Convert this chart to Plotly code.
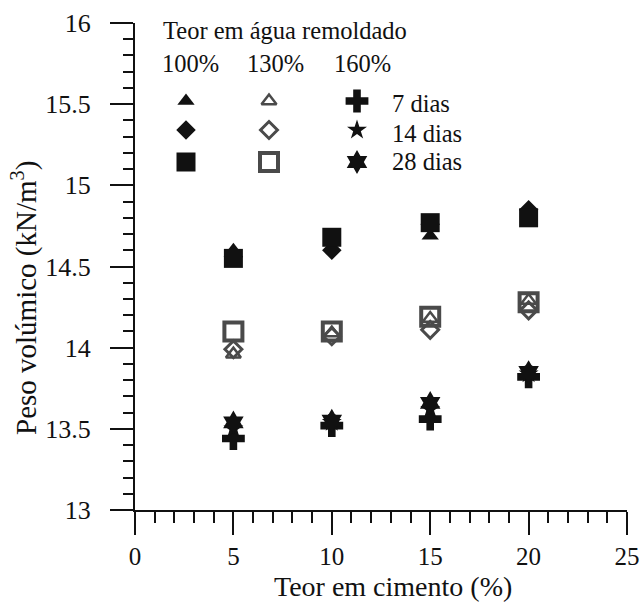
import plotly.graph_objects as go

# ---- data ----
cement = [5, 10, 15, 20]  # Teor em cimento (%)

# 100% remoulded water content (filled markers)
w100_7d = [14.60, 14.66, 14.69, 14.80]
w100_14d = [14.56, 14.60, 14.76, 14.85]
w100_28d = [14.55, 14.68, 14.77, 14.80]

# 130% (open markers)
w130_7d = [13.96, 14.09, 14.18, 14.29]
w130_14d = [13.99, 14.07, 14.11, 14.23]
w130_28d = [14.10, 14.10, 14.19, 14.28]

# 160%
w160_7d = [13.44, 13.52, 13.56, 13.82]
w160_14d = [13.50, 13.54, 13.62, 13.84]
w160_28d = [13.54, 13.55, 13.66, 13.85]

x_ticks = [0, 5, 10, 15, 20, 25]
y_ticks = [13, 13.5, 14, 14.5, 15, 15.5, 16]
y_ticklabels = ["13", "13.5", "14", "14.5", "15", "15.5", "16"]

legend_title = "Teor em água remoldado"
legend_cols = ["100%", "130%", "160%"]
legend_rows = ["7 dias", "14 dias", "28 dias"]

# ---- styling ----
FONT = "Liberation Serif"
BLACK = "#111111"
GREY = "#4a4a4a"

styles = {
    "w100_7d": dict(symbol="triangle-up", size=15, color=BLACK),
    "w100_14d": dict(symbol="diamond", size=15, color=BLACK),
    "w100_28d": dict(symbol="square", size=19, color=BLACK),
    "w130_7d": dict(symbol="triangle-up-open", size=13, color=GREY, line=dict(width=2.5, color=GREY)),
    "w130_14d": dict(symbol="diamond-open", size=13, color=GREY, line=dict(width=3, color=GREY)),
    "w130_28d": dict(symbol="square-open", size=18, color=GREY, line=dict(width=4, color=GREY)),
    "w160_7d": dict(symbol="cross", size=19, color=BLACK),
    "w160_14d": dict(symbol="star", size=15, color=BLACK),
    "w160_28d": dict(symbol="hexagram", size=18, color=BLACK),
}

series = [
    ("w100_7d", w100_7d), ("w100_14d", w100_14d), ("w100_28d", w100_28d),
    ("w130_7d", w130_7d), ("w130_14d", w130_14d), ("w130_28d", w130_28d),
    ("w160_7d", w160_7d), ("w160_14d", w160_14d), ("w160_28d", w160_28d),
]

fig = go.Figure()
for key, vals in series:
    fig.add_trace(go.Scatter(x=cement, y=vals, mode="markers", marker=styles[key],
                             showlegend=False, hoverinfo="x+y"))

# ---- custom legend key (placed on an overlay axis in plot-area fractions) ----
L, R, T, B = 135, 13, 23, 93
W, H = 640 - L - R, 603 - T - B


def fx(px):
    return (px - L) / W


def fy(py):
    return (603 - B - py) / H


col_px = [186, 269, 357]
row_py = [101, 130, 162]
keys = [["w100_7d", "w100_14d", "w100_28d"],
        ["w130_7d", "w130_14d", "w130_28d"],
        ["w160_7d", "w160_14d", "w160_28d"]]
for ci, cx in enumerate(col_px):
    for ri, ry in enumerate(row_py):
        fig.add_trace(go.Scatter(x=[fx(cx)], y=[fy(ry)], mode="markers",
                                 marker=styles[keys[ci][ri]], xaxis="x2", yaxis="y2",
                                 showlegend=False, hoverinfo="skip"))

annotations = []
annotations.append(dict(text=legend_title, x=fx(161), y=fy(30), xref="paper", yref="paper",
                        xanchor="left", yanchor="middle", showarrow=False,
                        font=dict(family=FONT, size=24.5, color=BLACK)))
for cx, lab in zip([190, 275, 362], legend_cols):
    annotations.append(dict(text=lab, x=fx(cx), y=fy(63), xref="paper", yref="paper",
                            xanchor="center", yanchor="middle", showarrow=False,
                            font=dict(family=FONT, size=24.5, color=BLACK)))
for ry, lab in zip([104, 133, 162], legend_rows):
    annotations.append(dict(text=lab, x=fx(390), y=fy(ry), xref="paper", yref="paper",
                            xanchor="left", yanchor="middle", showarrow=False,
                            font=dict(family=FONT, size=24.5, color=BLACK)))

# axis titles
annotations.append(dict(text="Teor em cimento (%)", x=fx(393), y=fy(586), xref="paper", yref="paper",
                        xanchor="center", yanchor="middle", showarrow=False,
                        font=dict(family=FONT, size=28, color=BLACK)))
annotations.append(dict(text="Peso volúmico (kN/m<sup>3</sup>)", x=fx(24), y=fy(298),
                        xref="paper", yref="paper", textangle=-90,
                        xanchor="center", yanchor="middle", showarrow=False,
                        font=dict(family=FONT, size=29, color=BLACK)))

fig.update_layout(
    template="none",
    width=640, height=603,
    margin=dict(l=L, r=R, t=T, b=B, pad=0, autoexpand=False),
    paper_bgcolor="white", plot_bgcolor="white",
    font=dict(family=FONT, size=25, color=BLACK),
    annotations=annotations,
    showlegend=False,
    xaxis=dict(range=[0, 25], tickvals=x_ticks, ticks="outside", ticklen=23, tickwidth=2,
               tickcolor=BLACK, showline=True, linecolor=BLACK, linewidth=2, automargin=False,
               showgrid=False, zeroline=False, ticklabelstandoff=0,
               tickfont=dict(family=FONT, size=25, color=BLACK),
               minor=dict(dtick=1, ticks="outside", ticklen=11, tickwidth=2, tickcolor=BLACK,
                          showgrid=False)),
    yaxis=dict(range=[13, 16], tickvals=y_ticks, ticktext=y_ticklabels, ticks="outside",
               ticklen=23, tickwidth=2, tickcolor=BLACK, showline=True, linecolor=BLACK,
               linewidth=2, showgrid=False, zeroline=False, ticklabelstandoff=14, automargin=False,
               tickfont=dict(family=FONT, size=26, color=BLACK),
               minor=dict(dtick=0.1, ticks="outside", ticklen=10, tickwidth=2, tickcolor=BLACK,
                          showgrid=False)),
    xaxis2=dict(overlaying="x", range=[0, 1], visible=False, fixedrange=True, automargin=False),
    yaxis2=dict(overlaying="y", range=[0, 1], visible=False, fixedrange=True, automargin=False),
)

fig.write_html("out.html", config={"displayModeBar": False},
               post_script="document.body.style.margin='0';")
